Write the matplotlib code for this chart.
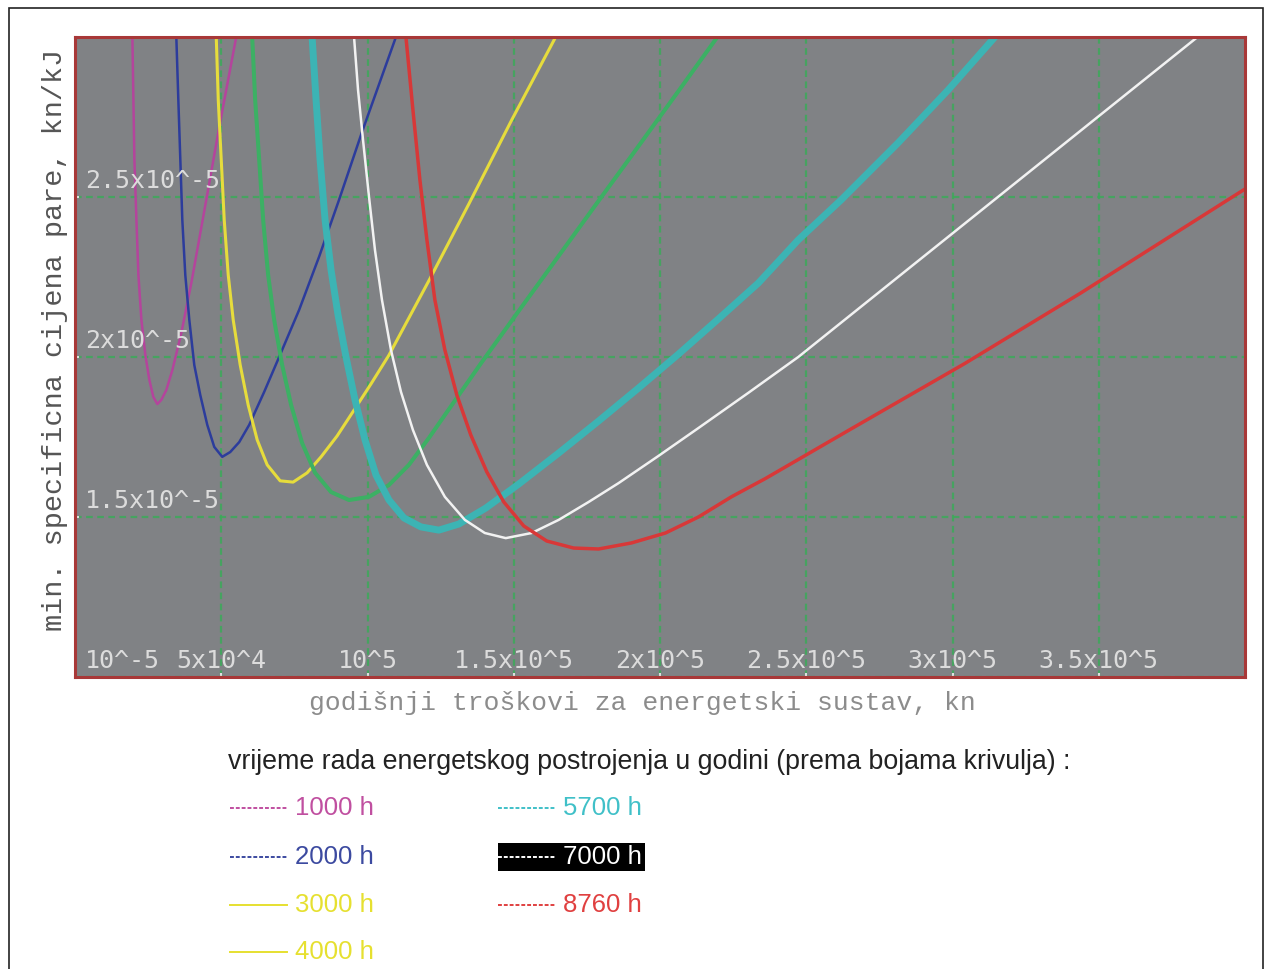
import matplotlib.pyplot as plt
from matplotlib.lines import Line2D
from matplotlib.patches import Rectangle
from matplotlib.transforms import offset_copy
import numpy as np

# godišnji troškovi (kn) -> min. specifična cijena pare (u jedinicama 10^-5 kn/kJ)
x_1000 = [19620, 19970, 20310, 21000, 21680, 22700, 24060, 25430, 26790, 28160, 29520, 31230, 33280, 36350,
          39760, 44880, 49320, 55120]
y_1000 = [3.0, 2.803, 2.616, 2.428, 2.256, 2.116, 2.006, 1.928, 1.875, 1.853, 1.866, 1.897, 1.959, 2.075,
          2.231, 2.491, 2.719, 3.0]

x_2000 = [34640, 35330, 36010, 36690, 37710, 39080, 40780, 42830, 45220, 47610, 50340, 53070, 56140, 59560,
          64680, 69790, 76620, 83440, 90270, 98120, 109720]
y_2000 = [3.0, 2.803, 2.616, 2.428, 2.256, 2.116, 1.975, 1.881, 1.788, 1.719, 1.688, 1.703, 1.734, 1.788,
          1.891, 2.0, 2.147, 2.313, 2.491, 2.703, 3.0]

x_3000 = [48290, 48980, 50000, 51020, 52390, 54090, 56480, 59210, 62290, 65700, 70140, 74570, 79350, 84130,
          89590, 95390, 101200, 107340, 122010, 134640, 149320, 164330]
y_3000 = [3.0, 2.803, 2.616, 2.428, 2.256, 2.116, 1.975, 1.85, 1.741, 1.663, 1.613, 1.609, 1.638, 1.688,
          1.753, 1.834, 1.916, 2.006, 2.256, 2.478, 2.741, 3.0]

x_4000 = [60580, 61600, 62970, 64330, 66040, 68090, 70820, 73890, 77650, 82080, 87540, 93690, 100510, 107340,
          114160, 120990, 129520, 139080, 151710, 165370, 179010, 192660, 206310, 219620]
y_4000 = [3.0, 2.803, 2.616, 2.428, 2.256, 2.116, 1.975, 1.85, 1.731, 1.638, 1.578, 1.553, 1.563, 1.6,
          1.663, 1.747, 1.859, 1.984, 2.144, 2.316, 2.488, 2.659, 2.831, 3.0]

x_5700 = [81060, 82420, 83790, 85500, 87540, 89930, 92660, 95730, 99150, 102900, 107340, 112460, 118260,
          124400, 131230, 140440, 151710, 165370, 179010, 192660, 206310, 219960, 233610, 247270, 261940,
          281390, 298460, 314500]
y_5700 = [3.0, 2.803, 2.616, 2.428, 2.272, 2.131, 2.0, 1.866, 1.741, 1.631, 1.553, 1.497, 1.469, 1.459,
          1.478, 1.528, 1.603, 1.7, 1.8, 1.903, 2.009, 2.119, 2.231, 2.366, 2.491, 2.669, 2.834, 3.0]

x_7000 = [95400, 96770, 98470, 100520, 102560, 104950, 108020, 111440, 115530, 120310, 126450, 133280,
          140100, 147270, 156140, 165370, 175610, 185850, 199500, 213140, 230200, 247270, 281390, 315520,
          349640, 383780]
y_7000 = [3.0, 2.834, 2.678, 2.5, 2.334, 2.178, 2.022, 1.891, 1.772, 1.663, 1.563, 1.491, 1.45, 1.434,
          1.45, 1.491, 1.547, 1.606, 1.691, 1.778, 1.888, 2.0, 2.25, 2.5, 2.75, 3.0]

x_8760 = [113140, 115530, 117920, 120310, 123040, 126450, 130550, 135330, 140790, 146590, 153420, 161270,
          170480, 179010, 190270, 201870, 213140, 224400, 236000, 264330, 304260, 343850, 372520, 400000]
y_8760 = [3.0, 2.772, 2.553, 2.366, 2.178, 2.022, 1.881, 1.756, 1.641, 1.547, 1.472, 1.425, 1.403, 1.4,
          1.419, 1.45, 1.5, 1.563, 1.62, 1.77, 1.98, 2.2, 2.366, 2.525]

hours = ["1000 h", "2000 h", "3000 h", "4000 h", "5700 h", "7000 h", "8760 h"]
curves = [(x_1000, y_1000), (x_2000, y_2000), (x_3000, y_3000), (x_4000, y_4000),
          (x_5700, y_5700), (x_7000, y_7000), (x_8760, y_8760)]
curve_colors = ["#b4449c", "#2c3c9c", "#e6dc3c", "#3cb064", "#3cb4b4", "#f2f2f2", "#d83838"]
curve_widths = [1.8, 1.8, 2.2, 2.9, 5.0, 1.8, 2.5]
legend_colors = ["#c04fa0", "#3c4aa0", "#e6e030", "#e6e030", "#40c0c8", "#ffffff", "#e04040"]

x_ticks = [5e4, 1e5, 1.5e5, 2e5, 2.5e5, 3e5, 3.5e5]
x_tick_labels = ["5x10^4", "10^5", "1.5x10^5", "2x10^5", "2.5x10^5", "3x10^5", "3.5x10^5"]
y_ticks = [1e-5, 1.5e-5, 2e-5, 2.5e-5]
y_tick_labels = ["10^-5", "1.5x10^-5", "2x10^-5", "2.5x10^-5"]

W, H = 1271, 969
fig = plt.figure(figsize=(W / 100, H / 100), dpi=100)
fig.patch.set_facecolor("white")


def fx(px):
    return px / W


def fy(py):
    return 1 - py / H


# okvir oko cijele slike
fig.patches.append(Rectangle((fx(9), -0.02), fx(1263) - fx(9), fy(8) + 0.02, transform=fig.transFigure,
                             fill=False, edgecolor="#222222", linewidth=1.2))

ax = fig.add_axes([fx(75), fy(677), fx(1245) - fx(75), fy(37) - fy(677)])
ax.set_facecolor("#808285")
ax.set_xlim(0, 4e5)
ax.set_ylim(1e-5, 3e-5)

for (xs, ys), c, lw in zip(curves, curve_colors, curve_widths):
    ax.plot(xs, np.array(ys) * 1e-5, color=c, linewidth=lw, solid_joinstyle="round")

ax.set_xticks(x_ticks)
ax.set_yticks(y_ticks)
ax.grid(True, color="#3caa5a", linestyle=(0, (3, 2)), linewidth=1.6, alpha=0.85)
ax.tick_params(direction="in", length=3, width=1.5, color="#e0e0e0",
               labelbottom=False, labelleft=False)
for s in ax.spines.values():
    s.set_color("#a83838")
    s.set_linewidth(2.2)
    s.set_zorder(5)

# oznake osi unutar područja grafa
mono = "DejaVu Sans Mono"
tr_x = offset_copy(ax.get_xaxis_transform(), fig=fig, y=3, units="points")
for v, lab in zip(x_ticks, x_tick_labels):
    ax.text(v, 0, lab, transform=tr_x, ha="center", va="bottom", fontsize=18,
            family=mono, color="#dcdcdc")
tr_y = offset_copy(ax.get_yaxis_transform(), fig=fig, y=3, units="points")
for v, lab in zip(y_ticks, y_tick_labels):
    ax.text(0.0085, v, lab, transform=tr_y, ha="left", va="bottom", fontsize=18,
            family=mono, color="#dcdcdc")

fig.text(fx(642), fy(703), "godišnji troškovi za energetski sustav, kn", ha="center", va="center",
         fontsize=19, family="Liberation Mono", color="#8c8c8c")
fig.text(fx(55), fy(340), "min. specificna cijena pare, kn/kJ", ha="center", va="center",
         rotation=90, fontsize=20.5, family="Liberation Mono", color="#555555")

# legenda ispod grafa
fig.text(fx(228), fy(762), "vrijeme rada energetskog postrojenja u godini (prema bojama krivulja) :",
         ha="left", va="center", fontsize=19.3, family="Liberation Sans", color="#222222")

slots = [(230, 808), (230, 857), (230, 905), (230, 952), (498, 808), (498, 857), (498, 905)]
for lab, c, (px, py) in zip(hours, legend_colors, slots):
    if lab == "7000 h":
        fig.patches.append(Rectangle((fx(px), fy(871)), fx(645) - fx(px), fy(843) - fy(871),
                                     transform=fig.transFigure, facecolor="black", edgecolor="none"))
    ls = "-" if lab in ("3000 h", "4000 h") else (0, (2, 1))
    fig.add_artist(Line2D([fx(px), fx(px + 57)], [fy(py), fy(py)], transform=fig.transFigure,
                          color=c, linewidth=1.4, linestyle=ls))
    fig.text(fx(px + 65), fy(py), lab, ha="left", va="center", fontsize=18.5,
             family="Liberation Sans", color=c)

fig.savefig("out.png", dpi=100)
